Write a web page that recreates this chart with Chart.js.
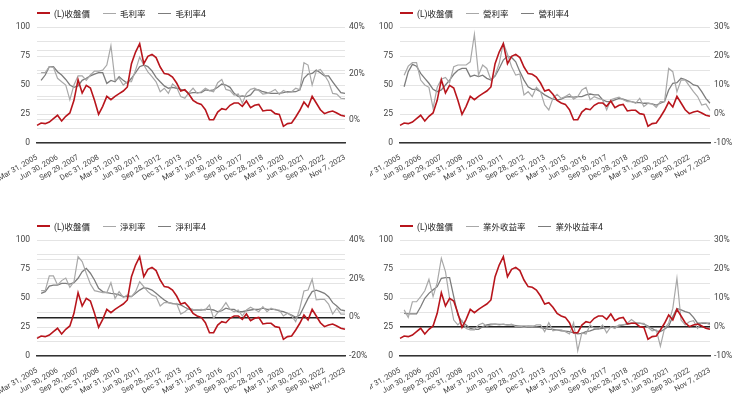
<!DOCTYPE html>
<html>
<head>
<meta charset="utf-8">
<script src="https://cdn.jsdelivr.net/npm/chart.js@4.4.1/dist/chart.umd.min.js"></script>
<style>
  html, body { margin: 0; padding: 0; background: #fff; }
  body { width: 740px; height: 397px; position: relative; overflow: hidden; font-family: Roboto, "Noto Sans CJK TC", sans-serif; }
  .panel { position: absolute; width: 370px; }
  .panel canvas { position: absolute; left: 0; top: 0; }
  .legend { position: absolute; display: flex; align-items: center; font-size: 8.5px; color: #222; white-space: nowrap;
            font-family: Roboto, "Noto Sans CJK TC", sans-serif; }
  .legend .item { display: flex; align-items: center; margin-right: 13px; }
  .legend .swatch { width: 13px; margin-right: 4px; }
</style>
</head>
<body>
<div class="panel" id="p1" style="left:0;top:0;height:197px"><canvas id="c1"></canvas></div>
<div class="panel" id="p2" style="left:370px;top:0;height:197px"><canvas id="c2"></canvas></div>
<div class="panel" id="p3" style="left:0;top:197px;height:200px"><canvas id="c3"></canvas></div>
<div class="panel" id="p4" style="left:370px;top:197px;height:200px"><canvas id="c4"></canvas></div>
<script>
// ---------- data ----------
const dates = [
  'Mar 31, 2005','Jun 30, 2005','Sep 30, 2005','Dec 30, 2005','Mar 31, 2006',
  'Jun 30, 2006','Sep 29, 2006','Dec 29, 2006','Mar 30, 2007','Jun 29, 2007',
  'Sep 29, 2007','Dec 31, 2007','Mar 31, 2008','Jun 30, 2008','Sep 30, 2008',
  'Dec 31, 2008','Mar 31, 2009','Jun 30, 2009','Sep 30, 2009','Dec 31, 2009',
  'Mar 31, 2010','Jun 30, 2010','Sep 30, 2010','Dec 31, 2010','Mar 31, 2011',
  'Jun 30, 2011','Sep 30, 2011','Dec 30, 2011','Mar 30, 2012','Jun 29, 2012',
  'Sep 28, 2012','Dec 28, 2012','Mar 29, 2013','Jun 28, 2013','Sep 30, 2013',
  'Dec 31, 2013','Mar 31, 2014','Jun 30, 2014','Sep 30, 2014','Dec 31, 2014',
  'Mar 31, 2015','Jun 30, 2015','Sep 30, 2015','Dec 31, 2015','Mar 31, 2016',
  'Jun 30, 2016','Sep 30, 2016','Dec 30, 2016','Mar 31, 2017','Jun 30, 2017',
  'Sep 30, 2017','Dec 29, 2017','Mar 31, 2018','Jun 29, 2018','Sep 28, 2018',
  'Dec 28, 2018','Mar 29, 2019','Jun 28, 2019','Sep 30, 2019','Dec 31, 2019',
  'Mar 31, 2020','Jun 30, 2020','Sep 30, 2020','Dec 31, 2020','Mar 31, 2021',
  'Jun 30, 2021','Sep 30, 2021','Dec 30, 2021','Mar 31, 2022','Jun 30, 2022',
  'Sep 30, 2022','Dec 30, 2022','Mar 31, 2023','Jun 30, 2023','Sep 28, 2023',
  'Nov 7, 2023'
];

// (L) closing price, left axis
const closePrice = [
  15.2,17.2,16.7,18.1,21,23.9,19,23,25.9,36.8,
  54.6,43.1,49.7,47.4,36.8,24.7,31.6,40.2,37.4,40.2,
  42.5,44.8,48.3,68.4,78.4,85.6,68.4,74.7,76.4,73.6,
  65.5,59.8,59.2,56.9,51.7,44.8,46,42,36.8,34.5,
  33.3,28.7,20.1,20.1,26.7,29.6,28.7,32.5,34.5,34.5,
  31.6,36.2,30.5,32.5,33.3,27.6,28.2,28.2,25.3,24.7,
  14.4,16.7,17.2,22.4,28.2,35.3,31,40.2,34.5,28.7,
  25.3,26.7,27.6,25.9,23.9,23
];

// gross margin (%)
const grossMargin = [
  null,20.3,20.3,22.9,22.6,17.9,16.4,15,8.6,15,
  18.9,18.9,17,19.3,21,21,21.4,23.6,31.9,17,
  17.9,15,16.4,16.4,21.4,27,23.6,20.7,18.6,16.4,
  12.1,13.6,11.4,15.4,14,10,9.3,11.7,13.6,11.4,
  12.1,13.6,12.6,12.1,16,17.4,13.1,12.6,10.7,11.1,
  7.1,11.4,13.1,13.6,12.6,11.1,11.4,12.1,13.1,11,
  12.6,11.7,12.1,13.6,12.9,24.6,23.6,15,21,21.7,
  19.3,16.4,11.4,11.1,9.3,9.1
];
const grossMargin4 = [
  null,17,19.3,22.9,22.9,20.7,19.3,17.4,15,14,
  14.6,17,17.9,18.9,19.7,20.3,20.3,15.7,17,16.4,
  18.6,17,15.7,17.9,20.3,22.9,23.6,22.9,21.1,18.3,
  16.4,14.6,13.6,14,13.6,13.1,12.6,11.4,11.7,11.7,
  11.7,12.9,12.6,12.9,14,15.4,15,14,11.4,10,
  10.3,10,10.7,12.9,12.9,12.1,11.7,11.4,11.4,11.4,
  11.7,12.1,12,12.1,12.9,17.9,19.7,20,21.4,20.3,
  18.9,18.9,16.4,14,11.7,11.4
];

// operating margin (%)
const opMargin = [
  null,13.4,16.5,17.7,17.7,11.7,10,9.2,2,9.2,
  12,12.6,10.8,16.3,16.9,16.9,16.9,18,27.5,13.4,
  16.9,15.7,11.7,13.4,17.4,24.5,20.6,16.3,13.4,13.8,
  6.6,7.7,6,9.2,7.7,3.1,1.4,5.4,6.8,5.4,
  6,6.9,5.1,6,8.3,9.2,4.9,6,5.4,4.9,
  1.4,4.9,5.4,5.8,4.9,4.3,4.3,3.7,5.4,2.6,
  3.7,3.5,2.3,4.3,4.3,15.7,14.6,7.7,11.7,11.7,
  9.7,7.7,6,3.1,3.5,1.2
];
const opMargin4 = [
  null,9.4,14.6,17.1,16.5,14,12.3,10.6,8.5,7.7,
  8.3,10,11.7,13.7,15.1,15.7,15.7,12.9,13.4,12.9,
  13.4,12.3,11.7,13.1,15.7,18.6,19.9,19.5,18,14.6,
  11.7,9.4,8.5,8.5,7.7,6.6,5.8,5.1,4.9,5.1,
  5.8,6,5.8,6,6,6.6,6.9,6.6,6.6,4.9,
  4.3,4.3,4.9,5.4,5.1,4.6,4.3,3.9,3.9,3.7,
  3.7,3.5,3.1,3.7,4.3,8.3,10.6,10.8,12.3,11.9,
  11.1,10,9.7,7.7,5.4,3.7
];

// net margin (%)
const netMargin = [
  null,13.8,13.8,21.4,21.4,16.7,19,20.3,15.5,18.4,
  31.4,28.8,22.8,17.2,13.8,13.3,12.8,12.8,17.9,9.8,
  13.3,10.3,11.6,10.7,13.3,18.4,15.9,13.3,11.6,10.7,
  5.9,7.6,7.6,6.9,7.2,1.7,2.9,4.7,4.1,3.8,
  4.1,3.8,6.4,-0.5,2.4,4.5,7.6,4.1,2.9,3.8,
  0.7,3.8,5.2,4.1,2.9,5.5,2.9,4.7,3.8,3.8,
  0.7,2.1,0.7,-2.2,4.7,13.6,14.1,19.7,9,9.3,
  9.3,6.9,1.7,4.7,1.7,1.7
];
const netMargin4 = [
  null,12.4,13.3,16.2,16.7,16.7,17.6,17.6,17.2,17.9,
  20.2,23.6,25.3,22.8,19.3,15,13.3,12.8,12.4,12.1,
  11.6,10.7,10.7,10.7,12.4,14.1,15.3,15,14.1,12.4,
  10.7,9,7.6,7.2,6.9,6.4,5.2,4.1,3.8,3.8,
  3.8,4.1,4.1,3.8,2.9,3.4,4.7,4.1,4.1,2.9,
  2.9,3.4,3.8,4.1,4.1,4.7,4.1,4.1,4.1,3.4,
  2.9,2.1,1.2,0,1.2,5.5,9.8,13.3,14.1,13.3,
  12.4,10.7,7.6,5.9,3.8,3.4
];

// non-operating income ratio (%)
const nonOpRatio = [
  null,5.9,3.3,8.7,8.7,10.5,12.5,16.4,10.5,15.3,
  23.7,19.1,9.9,2.4,0.7,2.2,-0.5,-1,-1,0.7,
  1.3,0.3,0.7,1,0.7,1,0.7,1,0.1,0.3,
  -0.1,0.3,0.1,0.7,0.7,-1.6,1.5,-1.3,-1,-1,
  -1.6,-2.4,1.5,-8.2,-2,-2.4,0.7,-0.5,-0.8,0.7,
  -2,0.1,-0.5,0.7,0.7,1.3,2.6,1.5,1.3,1.3,
  -0.1,-1.3,-1,-6.6,-0.5,1.3,6.4,16.8,2.4,0.7,
  1.8,2.2,-0.5,1.5,1.5,0.7
];
const nonOpRatio4 = [
  null,4.7,4.5,4.5,4.5,7,9.9,11.6,12.8,13.9,
  16.8,17,17,10.5,4.1,1.8,0.7,-0.5,-0.8,-0.8,
  0.1,0.7,1,1,0.9,0.9,0.7,0.7,0.5,0.3,
  0.3,0.3,0.3,0.1,-0.2,-0.5,-0.8,-0.8,-1,-1.3,
  -1.4,-1.6,-2,-2.4,-2.2,-1.6,-1.3,-0.8,-0.6,-0.5,
  -0.2,-0.1,0.1,0.3,0.7,1,1.3,1.3,1.3,1,
  0.3,-0.5,-1.3,-1.6,-0.8,0.3,3.6,6.4,5.9,5.3,
  4.9,3.3,1.3,1.3,1.3,1.3
];

// ---------- style ----------
const RED = '#b8151c';
const LIGHT = '#a8a8a8';
const DARK = '#7c7c7c';
const GRID = '#e4e4e4';
const AXIS_FONT = { family: 'Roboto, "Noto Sans CJK TC", sans-serif', size: 8.5 };
const XTICK_FONT = { family: 'Roboto, sans-serif', size: 7.6 };

function addLegend(panelId, names, top, left) {
  const colors = [RED, LIGHT, DARK];
  const widths = [2, 1.3, 1.5];
  const el = document.createElement('div');
  el.className = 'legend';
  el.style.top = top + 'px';
  el.style.left = left + 'px';
  names.forEach((n, i) => {
    const it = document.createElement('div');
    it.className = 'item';
    it.innerHTML = `<span class="swatch" style="border-top:${widths[i]}px solid ${colors[i]}"></span><span>${n}</span>`;
    el.appendChild(it);
  });
  document.getElementById(panelId).appendChild(el);
}

function makeChart(id, o) {
  const H = o.height, W = 370;
  new Chart(document.getElementById(id), {
    type: 'line',
    data: {
      labels: dates,
      datasets: [
        { label: o.names[0], data: closePrice, yAxisID: 'yL', borderColor: RED, borderWidth: 1.6 },
        { label: o.names[1], data: o.ratio, yAxisID: 'yR', borderColor: LIGHT, borderWidth: 1.2 },
        { label: o.names[2], data: o.ratio4, yAxisID: 'yR', borderColor: DARK, borderWidth: 1.3 }
      ]
    },
    options: {
      responsive: true,
      maintainAspectRatio: false,
      animation: false,
      layout: { padding: { top: o.top, left: 0, right: 0, bottom: 0 } },
      elements: { point: { radius: 0 }, line: { tension: 0 } },
      plugins: { legend: { display: false }, tooltip: { enabled: false } },
      scales: {
        x: {
          offset: false,
          grid: { display: false },
          border: { display: true, color: '#333', width: 1.5 },
          ticks: {
            autoSkip: false, minRotation: 30, maxRotation: 30, padding: 2,
            color: '#444', font: XTICK_FONT,
            callback: (v, i) => (i % 5 === 0 || i === dates.length - 1) ? dates[i] : null
          },
          afterFit: s => { s.paddingLeft = 0; s.paddingRight = 0; s.height = H - o.bottom; }
        },
        yL: {
          position: 'left', min: 0, max: 100,
          grid: { color: GRID, drawTicks: false, lineWidth: 1 },
          border: { display: false },
          ticks: { stepSize: 12.5, padding: 7, color: '#444', font: AXIS_FONT,
                   callback: v => v % 25 === 0 ? v : '' },
          afterFit: s => { s.width = o.left; s.paddingTop = 0; s.paddingBottom = 0; }
        },
        yR: {
          position: 'right', min: o.rMin, max: o.rMax,
          grid: {
            drawTicks: false, lineWidth: c => (o.zeroLine && c.tick && c.tick.value === 0) ? 1.5 : 1,
            color: c => (o.zeroLine && c.tick && c.tick.value === 0) ? '#222' : GRID
          },
          border: { display: false },
          ticks: { stepSize: 10, padding: 4, color: '#444', font: AXIS_FONT,
                   callback: v => o.rLabels.includes(v) ? v + '%' : '' },
          afterFit: s => { s.width = W - o.right; s.paddingTop = 0; s.paddingBottom = 0; }
        }
      }
    }
  });
}

makeChart('c1', { names: ['(L)收盤價', '毛利率', '毛利率4'], ratio: grossMargin, ratio4: grossMargin4,
  height: 197, top: 27, bottom: 143, left: 37, right: 345,
  rMin: -10, rMax: 40, rLabels: [0, 20, 40], zeroLine: false });
makeChart('c2', { names: ['(L)收盤價', '營利率', '營利率4'], ratio: opMargin, ratio4: opMargin4,
  height: 197, top: 27, bottom: 143, left: 30, right: 340,
  rMin: -10, rMax: 30, rLabels: [-10, 0, 10, 20, 30], zeroLine: false });
makeChart('c3', { names: ['(L)收盤價', '淨利率', '淨利率4'], ratio: netMargin, ratio4: netMargin4,
  height: 200, top: 43, bottom: 159, left: 37, right: 345,
  rMin: -20, rMax: 40, rLabels: [-20, 0, 20, 40], zeroLine: true });
makeChart('c4', { names: ['(L)收盤價', '業外收益率', '業外收益率4'], ratio: nonOpRatio, ratio4: nonOpRatio4,
  height: 200, top: 43, bottom: 159, left: 30, right: 340,
  rMin: -10, rMax: 30, rLabels: [-10, 0, 10, 20, 30], zeroLine: true });

addLegend('p1', ['(L)收盤價', '毛利率', '毛利率4'], 7, 37);
addLegend('p2', ['(L)收盤價', '營利率', '營利率4'], 7, 30);
addLegend('p3', ['(L)收盤價', '淨利率', '淨利率4'], 23, 37);
addLegend('p4', ['(L)收盤價', '業外收益率', '業外收益率4'], 23, 30);
</script>
</body>
</html>
